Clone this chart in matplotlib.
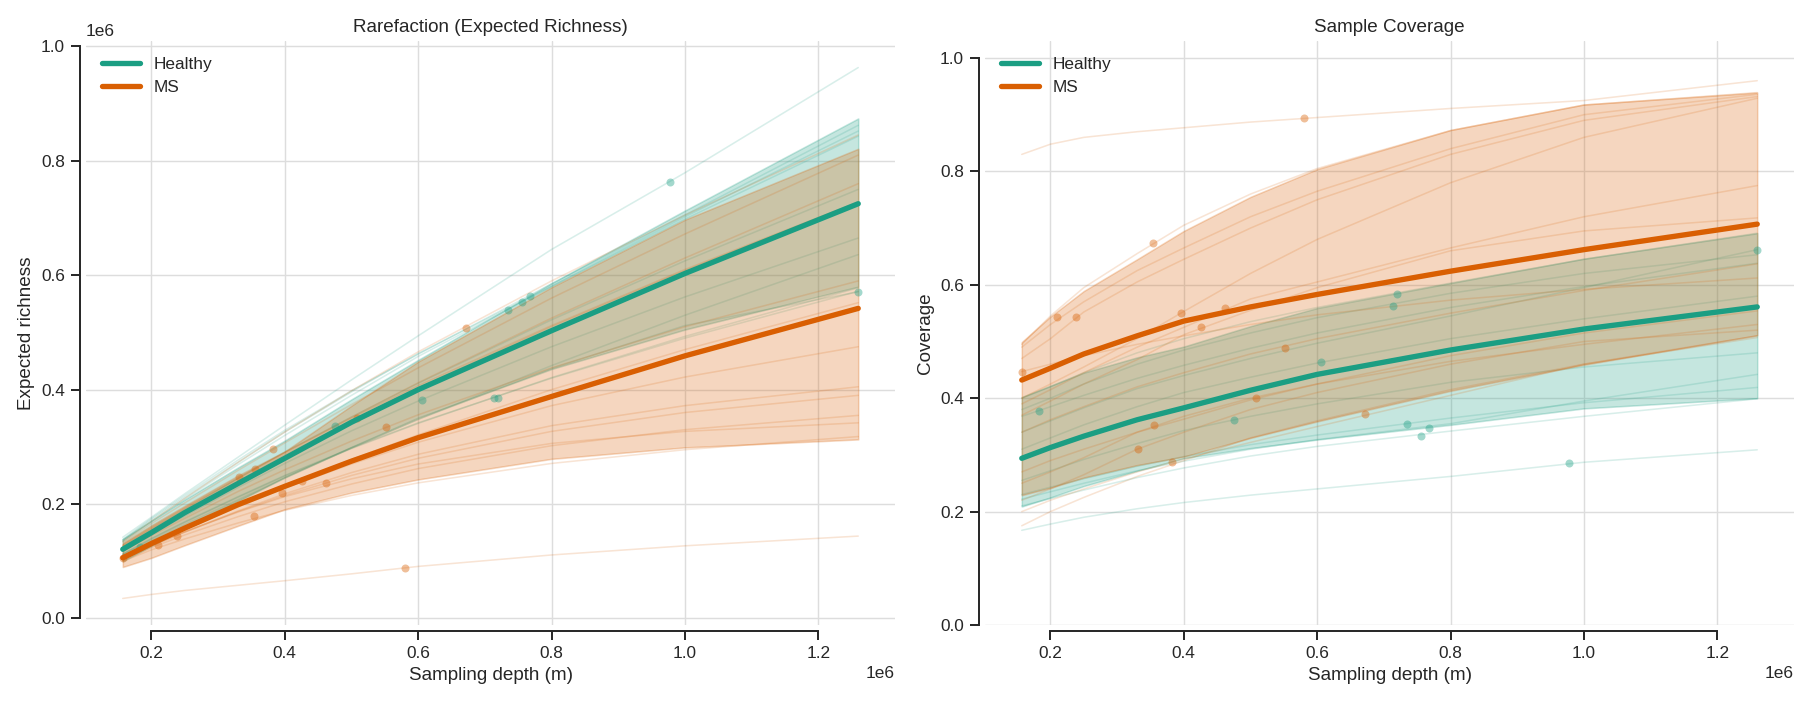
import numpy as np
import matplotlib
matplotlib.use("Agg")
import matplotlib.pyplot as plt
import seaborn as sns

# ---------------- data (depth in millions of reads, richness in millions) ----------------
SCALE = 1e6
depth_grid = [0.157, 0.2, 0.25, 0.33, 0.4, 0.5, 0.6, 0.8, 1.0, 1.26]
groups = ["Healthy", "MS"]

healthy_depths = [0.183, 0.476, 0.606, 0.714, 0.719, 0.734, 0.755, 0.768, 0.978, 1.26]
healthy_obs_richness = [0.125, 0.337, 0.382, 0.385, 0.385, 0.540, 0.553, 0.564, 0.763, 0.571]
healthy_obs_coverage = [0.378, 0.362, 0.464, 0.563, 0.584, 0.355, 0.334, 0.348, 0.285, 0.662]

ms_depths = [0.157, 0.21, 0.239, 0.332, 0.356, 0.354, 0.383, 0.396, 0.426, 0.462, 0.508, 0.552, 0.58, 0.672]
ms_obs_richness = [0.106, 0.129, 0.144, 0.248, 0.262, 0.179, 0.297, 0.219, 0.241, 0.236, 0.351, 0.335, 0.089, 0.508]
ms_obs_coverage = [0.447, 0.543, 0.543, 0.311, 0.352, 0.673, 0.288, 0.551, 0.526, 0.559, 0.401, 0.489, 0.895, 0.372]

healthy_richness_curves = [
    [0.112, 0.136, 0.164, 0.208, 0.246, 0.298, 0.348, 0.442, 0.530, 0.636],
    [0.124, 0.155, 0.190, 0.245, 0.291, 0.352, 0.411, 0.522, 0.625, 0.750],
    [0.118, 0.147, 0.179, 0.229, 0.271, 0.328, 0.380, 0.475, 0.562, 0.665],
    [0.112, 0.139, 0.168, 0.212, 0.249, 0.297, 0.341, 0.421, 0.493, 0.578],
    [0.113, 0.140, 0.169, 0.213, 0.250, 0.298, 0.342, 0.420, 0.490, 0.572],
    [0.135, 0.170, 0.209, 0.269, 0.320, 0.390, 0.458, 0.580, 0.698, 0.843],
    [0.137, 0.173, 0.212, 0.273, 0.326, 0.396, 0.463, 0.581, 0.702, 0.852],
    [0.138, 0.175, 0.215, 0.277, 0.329, 0.398, 0.462, 0.585, 0.705, 0.862],
    [0.142, 0.177, 0.218, 0.282, 0.338, 0.417, 0.494, 0.645, 0.779, 0.963],
    [0.104, 0.130, 0.160, 0.206, 0.245, 0.298, 0.348, 0.437, 0.512, 0.571],
]
ms_richness_curves = [
    [0.105, 0.130, 0.157, 0.198, 0.232, 0.278, 0.321, 0.400, 0.470, 0.552],
    [0.102, 0.124, 0.146, 0.178, 0.204, 0.235, 0.262, 0.302, 0.330, 0.355],
    [0.106, 0.129, 0.152, 0.186, 0.213, 0.244, 0.270, 0.306, 0.327, 0.342],
    [0.128, 0.158, 0.192, 0.245, 0.290, 0.352, 0.412, 0.525, 0.630, 0.760],
    [0.128, 0.159, 0.193, 0.245, 0.290, 0.350, 0.407, 0.512, 0.610, 0.728],
    [0.100, 0.120, 0.139, 0.167, 0.189, 0.215, 0.237, 0.271, 0.295, 0.318],
    [0.133, 0.166, 0.202, 0.259, 0.307, 0.374, 0.438, 0.560, 0.672, 0.810],
    [0.104, 0.127, 0.151, 0.188, 0.218, 0.255, 0.287, 0.337, 0.372, 0.405],
    [0.106, 0.130, 0.156, 0.195, 0.228, 0.270, 0.308, 0.372, 0.422, 0.475],
    [0.104, 0.127, 0.151, 0.187, 0.215, 0.250, 0.280, 0.327, 0.360, 0.390],
    [0.126, 0.156, 0.189, 0.241, 0.286, 0.346, 0.403, 0.510, 0.608, 0.727],
    [0.117, 0.145, 0.175, 0.222, 0.260, 0.310, 0.356, 0.438, 0.510, 0.590],
    [0.035, 0.042, 0.049, 0.058, 0.066, 0.078, 0.091, 0.111, 0.127, 0.144],
    [0.135, 0.170, 0.210, 0.273, 0.326, 0.398, 0.466, 0.590, 0.705, 0.845],
]
healthy_coverage_curves = [
    [0.368, 0.385, 0.405, 0.435, 0.458, 0.488, 0.515, 0.560, 0.597, 0.638],
    [0.255, 0.272, 0.292, 0.320, 0.343, 0.368, 0.390, 0.428, 0.455, 0.480],
    [0.310, 0.330, 0.353, 0.385, 0.410, 0.437, 0.462, 0.505, 0.540, 0.580],
    [0.380, 0.400, 0.425, 0.460, 0.485, 0.515, 0.542, 0.585, 0.620, 0.653],
    [0.400, 0.420, 0.445, 0.480, 0.505, 0.535, 0.560, 0.603, 0.645, 0.691],
    [0.230, 0.243, 0.258, 0.280, 0.297, 0.318, 0.335, 0.365, 0.392, 0.419],
    [0.210, 0.223, 0.238, 0.260, 0.277, 0.298, 0.315, 0.342, 0.368, 0.399],
    [0.222, 0.235, 0.250, 0.272, 0.289, 0.310, 0.327, 0.355, 0.395, 0.442],
    [0.167, 0.178, 0.190, 0.205, 0.216, 0.229, 0.240, 0.262, 0.287, 0.309],
    [0.340, 0.360, 0.383, 0.417, 0.440, 0.470, 0.497, 0.545, 0.595, 0.662],
]
ms_coverage_curves = [
    [0.447, 0.460, 0.475, 0.495, 0.510, 0.530, 0.547, 0.573, 0.592, 0.612],
    [0.490, 0.530, 0.570, 0.625, 0.665, 0.720, 0.765, 0.840, 0.900, 0.936],
    [0.470, 0.505, 0.552, 0.605, 0.645, 0.700, 0.750, 0.830, 0.890, 0.932],
    [0.220, 0.240, 0.265, 0.310, 0.340, 0.380, 0.410, 0.460, 0.500, 0.520],
    [0.250, 0.270, 0.295, 0.340, 0.368, 0.400, 0.425, 0.465, 0.495, 0.530],
    [0.495, 0.545, 0.595, 0.655, 0.705, 0.760, 0.805, 0.872, 0.917, 0.939],
    [0.175, 0.200, 0.225, 0.262, 0.290, 0.330, 0.360, 0.415, 0.460, 0.510],
    [0.400, 0.425, 0.455, 0.505, 0.553, 0.620, 0.680, 0.780, 0.860, 0.929],
    [0.370, 0.395, 0.425, 0.468, 0.512, 0.555, 0.595, 0.660, 0.695, 0.718],
    [0.390, 0.415, 0.445, 0.490, 0.525, 0.575, 0.605, 0.665, 0.720, 0.775],
    [0.270, 0.290, 0.310, 0.340, 0.363, 0.397, 0.425, 0.475, 0.515, 0.554],
    [0.340, 0.362, 0.385, 0.420, 0.445, 0.478, 0.505, 0.550, 0.590, 0.637],
    [0.830, 0.848, 0.860, 0.870, 0.877, 0.887, 0.895, 0.911, 0.925, 0.960],
    [0.200, 0.220, 0.240, 0.270, 0.293, 0.322, 0.350, 0.405, 0.460, 0.507],
]

# group summaries (mean line and shaded band)
healthy_richness_mean = [0.121, 0.150, 0.185, 0.236, 0.280, 0.343, 0.400, 0.503, 0.603, 0.725]
healthy_richness_low = [0.100, 0.127, 0.158, 0.205, 0.247, 0.300, 0.351, 0.436, 0.505, 0.580]
healthy_richness_high = [0.139, 0.171, 0.208, 0.264, 0.311, 0.383, 0.452, 0.586, 0.713, 0.874]
ms_richness_mean = [0.106, 0.131, 0.158, 0.199, 0.231, 0.275, 0.316, 0.388, 0.459, 0.542]
ms_richness_low = [0.090, 0.106, 0.128, 0.162, 0.191, 0.220, 0.243, 0.279, 0.299, 0.313]
ms_richness_high = [0.132, 0.163, 0.197, 0.250, 0.292, 0.372, 0.449, 0.579, 0.697, 0.821]

healthy_coverage_mean = [0.294, 0.313, 0.333, 0.362, 0.383, 0.414, 0.442, 0.485, 0.522, 0.561]
healthy_coverage_low = [0.209, 0.225, 0.245, 0.272, 0.294, 0.312, 0.327, 0.353, 0.382, 0.400]
healthy_coverage_high = [0.402, 0.422, 0.445, 0.472, 0.491, 0.527, 0.559, 0.603, 0.646, 0.691]
ms_coverage_mean = [0.432, 0.453, 0.478, 0.510, 0.536, 0.561, 0.583, 0.624, 0.662, 0.707]
ms_coverage_low = [0.229, 0.242, 0.260, 0.282, 0.297, 0.330, 0.359, 0.413, 0.459, 0.511]
ms_coverage_high = [0.499, 0.544, 0.589, 0.645, 0.695, 0.755, 0.804, 0.873, 0.918, 0.939]

colors = {"Healthy": "#1b9e83", "MS": "#d95f02"}

# ---------------- style ----------------
sns.set_theme(style="ticks", context="notebook")
plt.rcParams["font.family"] = ["Liberation Sans", "DejaVu Sans"]

DPI = 113
fig = plt.figure(figsize=(1808 / DPI, 702 / DPI), dpi=DPI)
ax1 = fig.add_axes([0.04757, 0.10969, 0.44746, 0.83191])
ax2 = fig.add_axes([0.54480, 0.10969, 0.44746, 0.83191])

x = np.array(depth_grid) * SCALE


def draw(ax, curves, obs_depths, obs_vals, mean, low, high, group, scale):
    c = colors[group]
    for cv in curves:
        ax.plot(x, np.array(cv) * scale, color=c, alpha=0.17, lw=1.0, zorder=2)
    ax.scatter(np.array(obs_depths) * SCALE, np.array(obs_vals) * scale, color=c,
               alpha=0.4, s=26, linewidths=0, zorder=3)
    ax.fill_between(x, np.array(low) * scale, np.array(high) * scale, color=c,
                    alpha=0.25, lw=1.0, zorder=2)
    ax.plot(x, np.array(mean) * scale, color=c, lw=3.4, zorder=5, label=group,
            solid_capstyle="round")


draw(ax1, healthy_richness_curves, healthy_depths, healthy_obs_richness,
     healthy_richness_mean, healthy_richness_low, healthy_richness_high, "Healthy", SCALE)
draw(ax1, ms_richness_curves, ms_depths, ms_obs_richness,
     ms_richness_mean, ms_richness_low, ms_richness_high, "MS", SCALE)
draw(ax2, healthy_coverage_curves, healthy_depths, healthy_obs_coverage,
     healthy_coverage_mean, healthy_coverage_low, healthy_coverage_high, "Healthy", 1.0)
draw(ax2, ms_coverage_curves, ms_depths, ms_obs_coverage,
     ms_coverage_mean, ms_coverage_low, ms_coverage_high, "MS", 1.0)

ax2.set_ylim(0, 1.03)

ax1.set_title("Rarefaction (Expected Richness)", fontsize=12)
ax2.set_title("Sample Coverage", fontsize=12)
ax1.set_ylabel("Expected richness", fontsize=12)
ax2.set_ylabel("Coverage", fontsize=12)
for ax in (ax1, ax2):
    ax.set_xlabel("Sampling depth (m)", fontsize=12)
    ax.grid(True, color="#dddddd", lw=0.9)
    ax.set_axisbelow(True)
    ax.tick_params(labelsize=11)
    ax.legend(loc="upper left", frameon=False, fontsize=11, handlelength=2.2)

sns.despine(fig=fig, offset=4, trim=True)

fig.savefig("out.png", dpi=DPI)
